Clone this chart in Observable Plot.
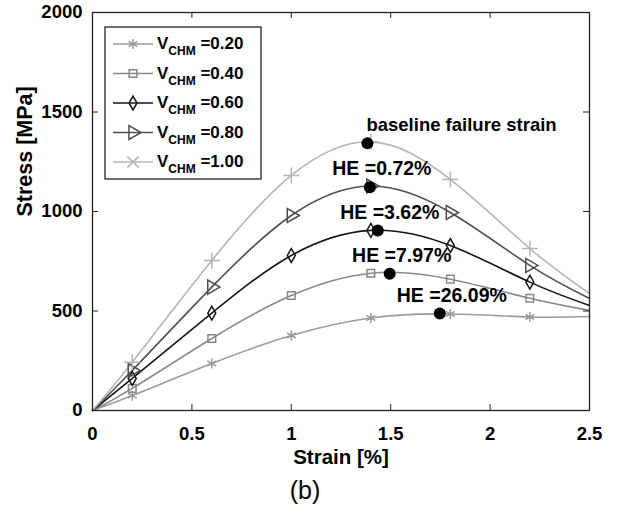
<!DOCTYPE html>
<html><head><meta charset="utf-8">
<script src="https://cdn.jsdelivr.net/npm/d3@7"></script>
<script src="https://cdn.jsdelivr.net/npm/@observablehq/plot@0.6"></script>
<style>body{margin:0;background:#fff}</style>
</head><body><div id="chart"></div>
<script>
// ---- data ----
const strain = [0, 0.2, 0.6, 1.0, 1.4, 1.8, 2.2, 2.5];
const v020 = [0, 75, 236, 377, 465, 485, 470, 472];
const v040 = [0, 111, 362, 578, 690, 660, 564, 503];
const v060 = [0, 161, 489, 779, 905, 829, 645, 528];
const v080 = [0, 201, 620, 980, 1128, 995, 729, 563];
const v100 = [0, 243, 754, 1181, 1350, 1161, 814, 588];
const seriesNames = ["0.20", "0.40", "0.60", "0.80", "1.00"];
const seriesValues = [v020, v040, v060, v080, v100];

const failStrain = [1.383, 1.395, 1.435, 1.495, 1.747];
const failStress = [1343, 1122, 905, 687, 487];
const failLabels = ["baseline failure strain", "HE =0.72%", "HE =3.62%", "HE =7.97%", "HE =26.09%"];

const xTicks = [0, 0.5, 1, 1.5, 2, 2.5];
const yTicks = [0, 500, 1000, 1500, 2000];

// ---- styles ----
const colors = ["#9a9a9a", "#888888", "#151515", "#4f4f4f", "#b5b5b5"];
const symbols = ["asterisk", "square", "diamond", "triangle", "plus"];
const legendSymbols = ["asterisk", "square", "diamond", "triangle", "times"];
const symbolR = [4.8, 4.3, 4.2, 5.2, 5.2];
const rotations = [0, 0, 0, 90, 0];

const W = 620, H = 518;
const mL = 92, mR = 31, mT = 12, mB = 108;
const pw = W - mL - mR, ph = H - mT - mB;
const FONT = "'Liberation Sans', Arial, Helvetica, sans-serif";

const series = seriesNames.map((name, i) => ({
  name,
  pts: strain.map((x, j) => ({x, y: seriesValues[i][j]}))
}));
const fails = failStrain.map((x, i) => ({x, y: failStress[i], label: failLabels[i]}));

const marks = [];
series.forEach((s, i) => {
  marks.push(Plot.line(s.pts, {x: "x", y: "y", stroke: colors[i], strokeWidth: 1.6, curve: "natural"}));
});
series.forEach((s, i) => {
  const inner = s.pts.filter(p => p.x > 0 && p.x < 2.5);
  marks.push(Plot.dot(inner, {x: "x", y: "y", symbol: symbols[i], r: symbolR[i], stroke: colors[i], fill: "none", strokeWidth: 1.5, rotate: rotations[i]}));
});
marks.push(Plot.dot(fails, {x: "x", y: "y", r: 6, fill: "#000", stroke: "none"}));
marks.push(Plot.text(fails.slice(0, 1), {x: "x", y: "y", text: "label", textAnchor: "start", dx: -1, dy: -18, fontSize: 18.5, fontWeight: "bold", fill: "#000"}));
marks.push(Plot.text(fails.slice(1), {x: "x", y: "y", text: "label", textAnchor: "middle", dx: 12, dy: -18, fontSize: 19.5, fontWeight: "bold", fill: "#000"}));

// inward ticks on all four sides
marks.push(Plot.tickX(xTicks, {x: d => d, insetTop: ph - 6, stroke: "#222"}));
marks.push(Plot.tickX(xTicks, {x: d => d, insetBottom: ph - 6, stroke: "#222"}));
marks.push(Plot.tickY(yTicks, {y: d => d, insetRight: pw - 6, stroke: "#222"}));
marks.push(Plot.tickY(yTicks, {y: d => d, insetLeft: pw - 6, stroke: "#222"}));
marks.push(Plot.frame({stroke: "#222", strokeWidth: 1.3}));

marks.push(Plot.axisX(xTicks, {tickSize: 0, tickPadding: 16, tickFormat: d => String(d), fontSize: 18.5, fontWeight: "bold", label: null}));
marks.push(Plot.axisY(yTicks, {tickSize: 0, tickPadding: 10, tickFormat: d => String(d), fontSize: 18.5, fontWeight: "bold", label: null}));

marks.push(Plot.text(["Strain [%]"], {frameAnchor: "bottom", dy: 53, fontSize: 20.5, fontWeight: "bold", fill: "#000"}));
marks.push(Plot.text(["Stress [MPa]"], {frameAnchor: "left", dx: -67, dy: 5, rotate: -90, fontSize: 21.5, fontWeight: "bold", fill: "#000"}));
marks.push(Plot.text(["(b)"], {frameAnchor: "bottom", dx: -36, dy: 88, fontSize: 25, fill: "#000"}));

const plot = Plot.plot({
  width: W, height: H,
  marginLeft: mL, marginRight: mR, marginTop: mT, marginBottom: mB,
  x: {domain: [0, 2.5]},
  y: {domain: [0, 2000]},
  style: {fontFamily: FONT, color: "#000", background: "#fff"},
  marks
});
document.getElementById("chart").appendChild(plot);

// ---- legend ----
const symMap = {asterisk: d3.symbolAsterisk, square: d3.symbolSquare, diamond: d3.symbolDiamond, triangle: d3.symbolTriangle, times: d3.symbolTimes, plus: d3.symbolPlus};
const svg = d3.select(plot);
const lg = svg.append("g").attr("font-family", FONT).attr("text-anchor", "start");
lg.append("rect").attr("x", 105).attr("y", 27).attr("width", 156).attr("height", 152)
  .attr("fill", "#fff").attr("stroke", "#111").attr("stroke-width", 1.2);
seriesNames.forEach((name, i) => {
  const cy = 44 + i * 29.5;
  lg.append("line").attr("x1", 113).attr("x2", 153).attr("y1", cy).attr("y2", cy)
    .attr("stroke", colors[i]).attr("stroke-width", 1.6);
  lg.append("path").attr("d", d3.symbol(symMap[legendSymbols[i]], Math.PI * symbolR[i] * symbolR[i])())
    .attr("transform", `translate(133,${cy}) rotate(${rotations[i]})`)
    .attr("fill", "none").attr("stroke", colors[i]).attr("stroke-width", 1.5);
  const t = lg.append("text").attr("x", 157).attr("y", cy + 5).attr("font-size", 17).attr("font-weight", "bold").attr("fill", "#000").attr("text-anchor", "start");
  t.append("tspan").text("V");
  t.append("tspan").attr("font-size", 12).attr("dy", 6).text("CHM");
  t.append("tspan").attr("dy", -6).text(" =" + name);
});
</script>
</body></html>
